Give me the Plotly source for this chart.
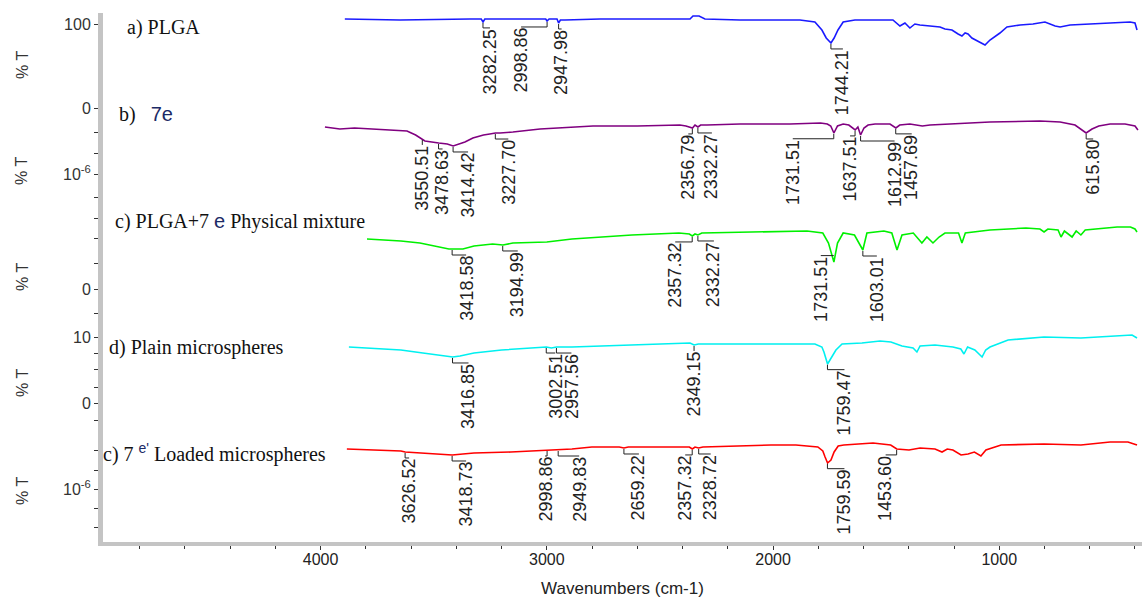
import numpy as np
import plotly.graph_objects as go

# ---------------- spectra (wavenumber in cm-1, stacked %T display units) ----------------
wn_plga = [3893, 3649, 3340, 3290, 3282, 3274, 3030, 3005, 2999, 2990, 2975, 2955, 2948, 2940, 2920,
           2765, 2367, 2354, 2327, 2301, 2146, 1881, 1815, 1784, 1765, 1744, 1730, 1713, 1690, 1638,
           1470, 1439, 1417, 1395, 1373, 1351, 1306, 1262, 1240, 1209, 1182, 1165, 1151, 1138, 1121,
           1094, 1063, 1041, 997, 966, 908, 851, 820, 798, 753, 731, 687, 599, 510, 422, 400, 391]
t_plga = [524, 523, 524, 524, 521, 524, 524, 524, 522, 524, 524, 524, 520, 523, 523,
          524, 524, 527, 527, 524, 523, 523, 521, 513, 505, 500, 505, 513, 521, 523,
          523, 517, 520, 515, 519, 518, 517, 516, 514, 513, 509, 507, 510, 509, 505,
          502, 498, 503, 510, 516, 518, 519, 520, 521, 517, 516, 518, 519, 520, 521, 520, 513]

wn_7e = [3981, 3915, 3850, 3782, 3700, 3618, 3580, 3550, 3539, 3478, 3440, 3414, 3390, 3362, 3327,
         3280, 3252, 3227, 3207, 3150, 3030, 2900, 2796, 2600, 2412, 2385, 2356, 2345, 2332, 2320,
         2292, 2146, 1925, 1790, 1760, 1745, 1731, 1715, 1690, 1665, 1637, 1625, 1613, 1598, 1580,
         1549, 1483, 1457, 1440, 1395, 1340, 1306, 1218, 1041, 820, 731, 665, 640, 616, 590,
         560, 510, 444, 400, 387]
t_7e = [416, 414, 415, 414, 413, 412, 408, 404, 402, 400, 399, 397, 399, 401, 405,
        408, 409, 410, 410, 411, 414, 416, 417, 417, 418, 417, 415, 418, 416, 418,
        418, 419, 419, 420, 419, 417, 410, 417, 419, 418, 413, 416, 408, 415, 418,
        419, 419, 415, 418, 419, 417, 418, 419, 421, 422, 421, 418, 414, 410, 414,
        417, 419, 419, 417, 413]

wn_mix = [3795, 3700, 3645, 3561, 3500, 3433, 3418, 3371, 3322, 3240, 3194, 3150, 3000, 2889, 2624,
          2416, 2370, 2357, 2345, 2332, 2315, 2009, 1850, 1780, 1755, 1731, 1715, 1690, 1640, 1603,
          1585, 1510, 1475, 1452, 1430, 1380, 1342, 1320, 1293, 1266, 1240, 1180, 1165, 1150, 1041,
          882, 820, 802, 785, 740, 727, 712, 678, 660, 639, 620, 541, 479, 420, 400, 391]
t_mix = [304, 303, 302, 300, 297, 294, 294, 294, 297, 299, 298, 300, 301, 304, 308,
         310, 309, 307, 309, 308, 310, 311, 312, 310, 300, 281, 300, 310, 308, 293,
         310, 312, 310, 293, 308, 310, 300, 306, 300, 306, 310, 310, 300, 310, 313,
         315, 314, 311, 314, 313, 306, 312, 306, 312, 308, 313, 315, 316, 316, 314, 311]

wn_plain = [3875, 3800, 3700, 3645, 3548, 3464, 3416, 3384, 3322, 3200, 3128, 3002, 2980, 2957, 2889,
            2600, 2416, 2367, 2349, 2330, 2093, 1815, 1784, 1775, 1759, 1740, 1722, 1695, 1607, 1527,
            1479, 1430, 1381, 1364, 1350, 1284, 1205, 1170, 1156, 1140, 1108, 1085, 1076, 1060, 1041,
            961, 802, 639, 510, 413, 391]
t_plain = [196, 195, 194, 193, 190, 187, 186, 187, 190, 193, 194, 196, 195, 196, 196,
           198, 199, 200, 198, 199, 199, 199, 196, 191, 179, 186, 193, 199, 200, 202,
           201, 197, 195, 191, 197, 198, 196, 194, 189, 196, 193, 188, 186, 193, 196,
           203, 206, 205, 207, 208, 205]

wn_loaded = [3884, 3750, 3645, 3626, 3561, 3470, 3418, 3371, 3322, 3159, 3000, 2950, 2889, 2801, 2680,
             2659, 2640, 2416, 2370, 2357, 2345, 2329, 2310, 2009, 1899, 1802, 1780, 1770, 1759, 1744,
             1730, 1712, 1687, 1558, 1480, 1453, 1420, 1399, 1350, 1284, 1253, 1230, 1205, 1169, 1138,
             1110, 1081, 1059, 992, 802, 639, 510, 431, 391]
t_loaded = [94, 93, 92, 91, 90, 89, 88, 89, 90, 91, 93, 93, 94, 96, 96,
            95, 96, 96, 96, 94, 96, 95, 96, 98, 98, 96, 92, 86, 80, 83,
            91, 97, 98, 100, 98, 94, 93, 93, 95, 94, 91, 94, 93, 88, 89,
            91, 87, 93, 98, 99, 98, 101, 101, 98]

# ---------------- labelled peaks ----------------
peaks_plga = [3282.25, 2998.86, 2947.98, 1744.21]
peaks_7e = [3550.51, 3478.63, 3414.42, 3227.70, 2356.79, 2332.27, 1731.51, 1637.51, 1612.99, 1457.69, 615.80]
peaks_mix = [3418.58, 3194.99, 2357.32, 2332.27, 1731.51, 1603.01]
peaks_plain = [3416.85, 3002.51, 2957.56, 2349.15, 1759.47]
peaks_loaded = [3626.52, 3418.73, 2998.86, 2949.83, 2659.22, 2357.32, 2328.72, 1759.59, 1453.60]

# horizontal offsets (pixels) of each peak label from its peak
shift_plga = [7, -26, 3, 12]
shift_7e = [0, 4, 15, 13, -4, 14, -41, -5, 34, 16, 7]
shift_mix = [14, 15, -17, 16, -13, 14]
shift_plain = [16, 9, 15, 0, 17]
shift_loaded = [4, 14, -2, 21, 15, -7, 12, 17, -11]

# vertical gap (pixels) between a peak and the top of its label
gap_plga = [6, 6, 6, 6]
gap_7e = [6] * 11
gap_mix = [6, 6, 6, 6, -6, 6]
gap_plain = [6, 6, 6, 6, 6]
gap_loaded = [6] * 9

# ---------------- page geometry ----------------
W, H = 1142, 600
PL, PR, PT, PB = 103, 1142, 13, 542
X_RANGE = [4962, 369]
Y_RANGE = [1, 530]


def px_x(px):
    return (px - PL) / (PR - PL)


def px_y(py):
    return (PB - py) / (PB - PT)


fig = go.Figure()

series = [
    (wn_plga, t_plga, "#1a1aff", peaks_plga, shift_plga, gap_plga),
    (wn_7e, t_7e, "#800080", peaks_7e, shift_7e, gap_7e),
    (wn_mix, t_mix, "#00f000", peaks_mix, shift_mix, gap_mix),
    (wn_plain, t_plain, "#00f0f0", peaks_plain, shift_plain, gap_plain),
    (wn_loaded, t_loaded, "#ff0000", peaks_loaded, shift_loaded, gap_loaded),
]

LABEL_FONT = dict(family="Liberation Sans, Arial, sans-serif", size=18, color="#222222")
LEADER = dict(color="#222222", width=1)

for wn, t, color, peaks, shifts, gaps in series:
    fig.add_trace(go.Scatter(x=wn, y=t, mode="lines", line=dict(color=color, width=1.6),
                             hoverinfo="skip", showlegend=False))
    wn_arr = np.array(wn[::-1], dtype=float)
    t_arr = np.array(t[::-1], dtype=float)
    for p, s, g in zip(peaks, shifts, gaps):
        yv = float(np.interp(p, wn_arr, t_arr))
        top = yv - g
        if g > 0:
            fig.add_shape(type="line", xref="x", yref="y", x0=p, x1=p, y0=yv - 1, y1=top, line=LEADER)
        if s:
            fig.add_shape(type="line", xref="x", yref="y", xsizemode="pixel", xanchor=p,
                          x0=0, x1=s, y0=top, y1=top, line=LEADER)
        fig.add_annotation(x=p, y=top, xref="x", yref="y", xshift=s, text=f"{p:.2f}",
                           textangle=-90, showarrow=False, xanchor="center", yanchor="top",
                           font=LABEL_FONT, borderpad=0)

# ---------------- spectrum titles ----------------
SERIF = dict(family="Liberation Serif, Times New Roman, serif", size=20, color="#111111")
E_SPAN = "<span style='font-family:Liberation Sans, Arial;color:#1c2a66'>{}</span>"
titles = [
    (125, 27, "a) PLGA"),
    (117, 115, "b)&nbsp;&nbsp;&nbsp;" + E_SPAN.format("7e")),
    (113, 221, "c) PLGA+7 " + E_SPAN.format("e") + " Physical mixture"),
    (107, 347, "d) Plain microspheres"),
    (101, 453, "c) 7 " + "<sup>" + E_SPAN.format("e'") + "</sup> Loaded microspheres"),
]
for x0, y0, txt in titles:
    fig.add_annotation(x=px_x(x0), y=px_y(y0), xref="paper", yref="paper", text=txt,
                       showarrow=False, xanchor="left", yanchor="middle", font=SERIF)

# ---------------- "% T" axis captions ----------------
for yc in [65, 171, 277, 383, 491]:
    fig.add_annotation(x=px_x(22), y=px_y(yc), xref="paper", yref="paper", text="% T",
                       textangle=-90, showarrow=False, xanchor="center", yanchor="middle",
                       font=dict(family="Liberation Sans, Arial, sans-serif", size=16, color="#333333"))

# ---------------- axes ----------------
y_major = [519, 435, 369, 254, 206, 140, 54]
y_major_text = ["100", "0", "10<sup>-6</sup>", "0", "10", "0", "10<sup>-6</sup>"]
y_minor = [411, 390, 346, 325, 305, 280, 230, 190, 174, 156, 123, 93, 73, 35, 16]

fig.update_xaxes(range=X_RANGE, showgrid=False, zeroline=False, showline=True,
                 linecolor="#c4c4c4", linewidth=4, ticks="outside", ticklen=4, tickwidth=1,
                 tickcolor="#333333", tickmode="array", tickvals=[4000, 3000, 2000, 1000],
                 ticktext=["4000", "3000", "2000", "1000"], ticklabelstandoff=-4,
                 tickfont=dict(family="Liberation Sans, Arial, sans-serif", size=16, color="#222222"),
                 minor=dict(tickmode="array", tickvals=[4800, 4600, 4400, 4200, 3800, 3600, 3400, 3200,
                                                         2800, 2600, 2400, 2200, 1800, 1600, 1400, 1200,
                                                         800, 600, 400],
                            ticks="outside", ticklen=3, tickcolor="#333333", tickwidth=1),
                 title=dict(text="Wavenumbers (cm-1)", standoff=16,
                            font=dict(family="Liberation Sans, Arial, sans-serif", size=17, color="#222222")))

fig.update_yaxes(range=Y_RANGE, showgrid=False, zeroline=False, showline=True,
                 linecolor="#c4c4c4", linewidth=5, ticks="outside", ticklen=4, tickwidth=1,
                 tickcolor="#333333", tickmode="array", tickvals=y_major, ticktext=y_major_text,
                 tickfont=dict(family="Liberation Sans, Arial, sans-serif", size=16, color="#333333"),
                 minor=dict(tickmode="array", tickvals=y_minor, ticks="outside", ticklen=4,
                            tickcolor="#333333", tickwidth=1))

fig.update_layout(width=W, height=H, margin=dict(l=PL, r=W - PR, t=PT, b=H - PB),
                  paper_bgcolor="white", plot_bgcolor="white", showlegend=False)

fig.write_html("out.html")
